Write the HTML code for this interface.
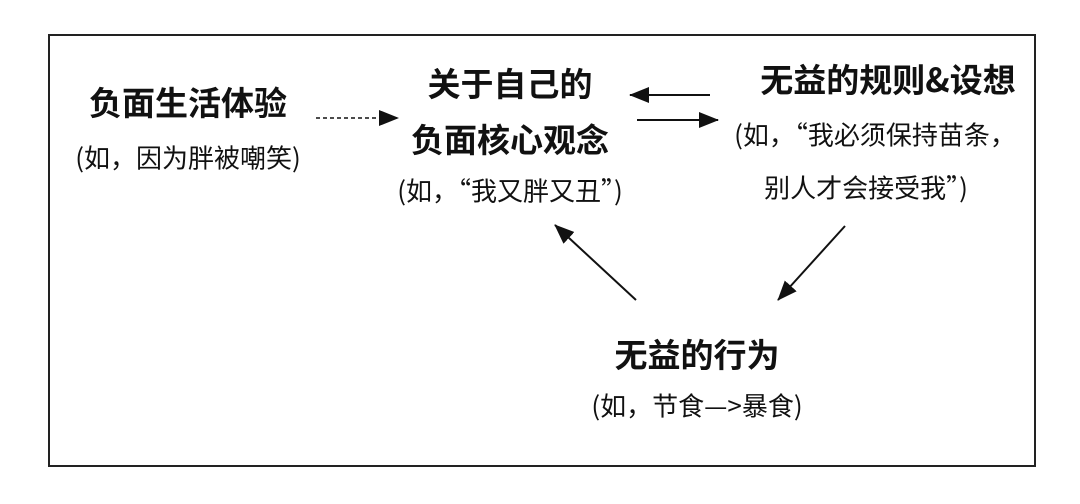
<!DOCTYPE html>
<html><head><meta charset="utf-8"><style>
body{margin:0;width:1080px;height:504px;background:#fff;position:relative;overflow:hidden;font-family:"Noto Sans CJK SC",sans-serif;color:#111}
.t{position:absolute;white-space:nowrap;transform:translate(-50%,-50%)}
.b{font-weight:bold;font-size:33px}
.n{font-size:26px}
</style></head><body>
<div style="position:absolute;left:48px;top:34px;width:988px;height:433px;border:2px solid #222;box-sizing:border-box"></div>
<div class="t b" style="left:188px;top:101px">负面生活体验</div>
<div class="t n" style="left:188px;top:157px">(如，因为胖被嘲笑)</div>
<div class="t b" style="left:510px;top:82px">关于自己的</div>
<div class="t b" style="left:510px;top:138px">负面核心观念</div>
<div class="t n" style="left:510px;top:190px">(如，“我又胖又丑”)</div>
<div class="t b" style="left:888px;top:78px">无益的规则&amp;设想</div>
<div class="t n" style="left:875px;top:134px">(如，“我必须保持苗条，</div>
<div class="t n" style="left:866px;top:187px">别人才会接受我”)</div>
<div class="t b" style="left:697px;top:353px">无益的行为</div>
<div class="t n" style="left:697px;top:405px">(如，节食—&gt;暴食)</div>
<svg width="1080" height="504" style="position:absolute;left:0;top:0">
<defs><marker id="c" markerWidth="20" markerHeight="16" refX="19" refY="8" orient="auto" markerUnits="userSpaceOnUse"><path d="M0,0 L20,8 L0,16 z" fill="#111"/></marker></defs>
<line x1="316" y1="118" x2="398" y2="118" stroke="#111" stroke-width="1.5" stroke-dasharray="4,3" marker-end="url(#c)"/>
<line x1="710" y1="95" x2="630" y2="95" stroke="#111" stroke-width="2" marker-end="url(#c)"/>
<line x1="637" y1="120" x2="718" y2="120" stroke="#111" stroke-width="2" marker-end="url(#c)"/>
<line x1="845" y1="226" x2="778" y2="300" stroke="#111" stroke-width="2" marker-end="url(#c)"/>
<line x1="636" y1="300" x2="555" y2="225" stroke="#111" stroke-width="2" marker-end="url(#c)"/>
</svg>
</body></html>
